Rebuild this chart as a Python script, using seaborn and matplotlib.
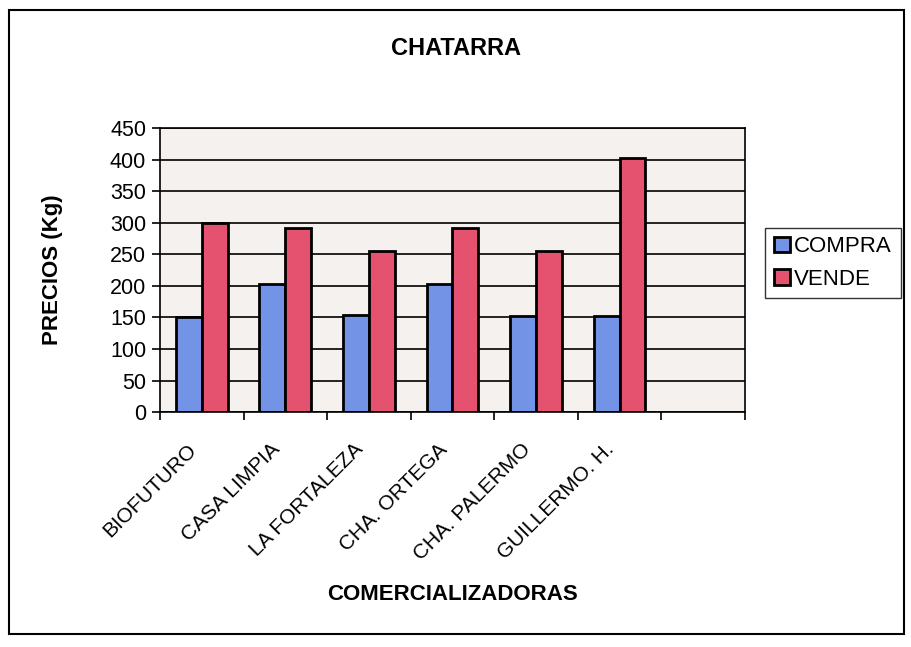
import matplotlib
matplotlib.use("Agg")
import matplotlib.pyplot as plt
import numpy as np
import pandas as pd
import seaborn as sns
from matplotlib.patches import Rectangle

empresas = ['BIOFUTURO', 'CASA LIMPIA', 'LA FORTALEZA', 'CHA. ORTEGA',
            'CHA. PALERMO', 'GUILLERMO. H.']
compra = [150, 203, 154, 203, 152, 153]
vende = [300, 292, 255, 292, 256, 402]
series = ['COMPRA', 'VENDE']
colores = ['#7293e6', '#e4526f']

df = pd.DataFrame({
    'empresa': empresas * 2,
    'serie': ['COMPRA'] * len(empresas) + ['VENDE'] * len(empresas),
    'precio': compra + vende,
})

sns.set_style('white')
plt.rcParams['font.family'] = ['Liberation Sans', 'DejaVu Sans']
plt.rcParams.update({'text.color': 'black', 'axes.labelcolor': 'black',
                     'xtick.color': 'black', 'ytick.color': 'black'})

fig = plt.figure(figsize=(9.11, 6.47), dpi=100)
ax = fig.add_axes([0.1756, 0.363, 0.642, 0.439])
ax.set_facecolor('#f4f1ef')

sns.barplot(data=df, x='empresa', y='precio', hue='serie', order=empresas,
            hue_order=series, palette=colores, width=0.62, edgecolor='black',
            linewidth=2, saturation=1, ax=ax, legend=True)

ax.set_xlim(-0.5, 6.5)
ax.set_ylim(0, 450)
ax.set_yticks(range(0, 451, 50))
ax.yaxis.grid(True, color='black', linewidth=1.2)
ax.set_axisbelow(True)
for s in ax.spines.values():
    s.set_color('black')
    s.set_linewidth(1.2)

# ticks on category borders (one empty slot at the end), labels near centers
ax.set_xticks(np.arange(len(empresas) + 2) - 0.5)
ax.set_xticklabels([])
ax.set_xticks(np.arange(len(empresas)) - 0.18, minor=True)
ax.set_xticklabels(empresas, minor=True, rotation=45, ha='right',
                   rotation_mode='anchor', fontsize=15)
ax.tick_params(axis='x', which='major', length=6, width=1.2,
               direction='out', bottom=True)
ax.tick_params(axis='x', which='minor', length=0, pad=20)
ax.tick_params(axis='y', length=6, width=1.2, direction='out',
               left=True, labelsize=15.5, pad=4)

ax.set_xlabel('COMERCIALIZADORAS', fontsize=16, fontweight='bold')
ax.xaxis.set_label_coords(0.5, -0.605)
ax.set_ylabel('PRECIOS (Kg)', fontsize=16, fontweight='bold')
ax.yaxis.set_label_coords(-0.165, 0.5)
fig.text(0.5, 0.925, 'CHATARRA', ha='center', va='center', fontsize=17,
         fontweight='bold')

ax.legend(loc='center left', bbox_to_anchor=(1.035, 0.525), frameon=True,
          fancybox=False, edgecolor='black', fontsize=16, handlelength=0.7,
          handleheight=0.7, handletextpad=0.2, borderpad=0.4,
          labelspacing=0.5, borderaxespad=0)

fig.patches.append(Rectangle((0.01, 0.02), 0.982, 0.965, transform=fig.transFigure,
                             fill=False, edgecolor='black', linewidth=1.5))

fig.savefig('out.png', dpi=100)
